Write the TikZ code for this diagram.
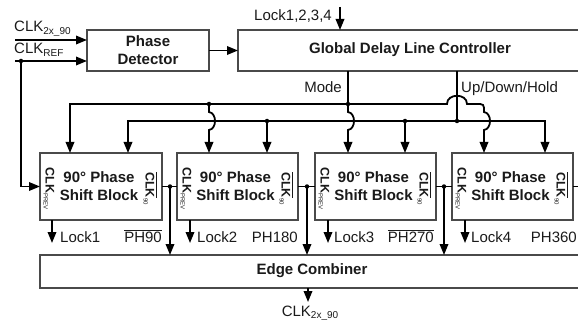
\documentclass[tikz,border=0pt]{standalone}
\usepackage{fontspec}
\setmainfont{Liberation Sans}
\usetikzlibrary{arrows.meta}
\definecolor{txt}{HTML}{1A1A1A}
\definecolor{boxgray}{HTML}{4A4A4A}
\newcommand{\lsub}[1]{\raisebox{-0.35ex}{\fontsize{10}{10}\selectfont #1}}
\newcommand{\tsub}[1]{\raisebox{-0.3ex}{\fontsize{6}{6}\selectfont\mdseries #1}}
\begin{document}
\begin{tikzpicture}[x=1pt,y=-1pt,
  box/.style={draw=boxgray, line width=1.4pt, fill=white, inner sep=0pt, outer sep=0pt, anchor=north west},
  wire/.style={line width=1.8pt, draw=black},
  arr/.style={wire, -{Triangle[length=11pt,width=8.5pt]}},
  biarr/.style={wire, {Triangle[length=11pt,width=8.5pt]}-{Triangle[length=11pt,width=8.5pt]}},
  dot/.style={circle, fill=black, inner sep=0pt, minimum size=4.5pt},
  lbl/.style={font=\fontsize{15}{17}\selectfont, text=txt, inner sep=0pt},
  blk/.style={font=\fontsize{15}{18}\selectfont\bfseries, text=txt, align=center, inner sep=0pt},
  vlbl/.style={font=\fontsize{12.5}{12.5}\selectfont\bfseries, text=txt, inner sep=0pt, rotate=-90}
]
\useasboundingbox (0,0) rectangle (578,334);
\clip (0,0) rectangle (578,334);

% ---------- boxes ----------
\node[box, minimum width=122pt, minimum height=41pt] (pd) at (87,30) {};
\node[blk] (pdt) at (pd.center) {Phase\\Detector};
\node[box, minimum width=360pt, minimum height=41pt] (gdlc) at (238,30) {};
\node[blk] (gdlct) at (410,50) {Global Delay Line Controller};

\node[box, minimum width=122pt, minimum height=67pt] (b1) at (40,153) {};
\node[box, minimum width=121pt, minimum height=67pt] (b2) at (177,153) {};
\node[box, minimum width=121pt, minimum height=67pt] (b3) at (315,153) {};
\node[box, minimum width=121pt, minimum height=67pt] (b4) at (452,153) {};
\foreach \b in {b1,b2,b3,b4}{
  \node[blk] at ([xshift=-2pt]\b.center) {90° Phase\\Shift Block};
  \node[vlbl] at ([xshift=9pt,yshift=-2pt]\b.west) {CLK\tsub{PREV}};
  \node[vlbl] at ([xshift=-12pt,yshift=-2pt]\b.east) {$\overline{\mbox{CLK}}$\tsub{90}};
}

\node[box, minimum width=560pt, minimum height=33pt] (ec) at (40,255) {};
\node[blk] (ect) at (312,271) {Edge Combiner};

% ---------- clock inputs ----------
\coordinate (inA) at (15,40);
\coordinate (inB) at (15,61);
\draw[arr] (inA) -- (inA -| pd.west);
\draw[arr] (inB) -- (inB -| pd.west);
\node[dot] (jref) at (21,61) {};
\draw[arr] (jref.center) |- (b1.west);
\node[lbl, anchor=base west] at (14,32) {CLK\lsub{2x\_90}};
\node[lbl, anchor=base west] at (14,54) {CLK\lsub{REF}};

% ---------- detector to controller ----------
\draw[arr] (pd.east) -- (pd.east -| gdlc.west);
\coordinate (lk) at (340,7);
\draw[arr] (lk) -- (lk |- gdlc.north);
\node[lbl, anchor=base east] at (332,21) {Lock1,2,3,4};

% ---------- Mode bus ----------
\node[dot] (jm3) at (348,104) {};
\node[dot] (jm2) at (209,104) {};
\draw[wire] (gdlc.south -| jm3) -- (jm3.center);
\node[lbl, anchor=base east] at (342,93) {Mode};
\draw[biarr] (b1.north -| 70,0) -- (70,104) -- (447,104)
  .. controls (447,93) and (467,93) .. (467,104) -- (476,104)
  .. controls (484,104) .. (484,112)
  .. controls (492,113) and (492,129) .. (484,130) -- (b4.north -| 484,0);
\draw[arr] (jm2.center) -- (209,112) .. controls (217,113) and (217,129) .. (209,130) -- (b2.north -| jm2);
\draw[arr] (jm3.center) -- (348,112) .. controls (356,113) and (356,129) .. (348,130) -- (b3.north -| jm3);

% ---------- Up/Down/Hold bus ----------
\node[dot] (ju) at (457,121) {};
\node[dot] (ju2) at (267,121) {};
\node[dot] (ju3) at (405,121) {};
\draw[wire] (gdlc.south -| ju) -- (ju.center);
\node[lbl, anchor=base west] at (461,93) {Up/Down/Hold};
\draw[biarr] (b1.north -| 128,0) -- (128,121) -- (545,121) -- (b4.north -| 545,0);
\draw[arr] (ju2.center) -- (b2.north -| ju2);
\draw[arr] (ju3.center) -- (b3.north -| ju3);

% ---------- phase outputs ----------
\draw[wire] (b1.east) -- (b2.west);
\draw[wire] (b2.east) -- (b3.west);
\draw[wire] (b3.east) -- (b4.west);
\draw[wire] (b4.east) -- ++(10,0);
\node[dot] (jo1) at (170,186.5) {};
\node[dot] (jo2) at (307,186.5) {};
\node[dot] (jo3) at (444,186.5) {};
\foreach \j in {jo1,jo2,jo3}{
  \draw[arr] (\j.center) -- (\j |- ec.north);
}
\node[lbl, anchor=base east] at (162,242) {$\overline{\mbox{PH90}}$};
\node[lbl, anchor=base east] at (298,242) {PH180};
\node[lbl, anchor=base east] at (434,242) {$\overline{\mbox{PH270}}$};
\node[lbl, anchor=base east] at (577,242) {PH360};

% ---------- lock outputs ----------
\draw[arr] (b1.south -| 52,0) -- (52,243);
\draw[arr] (b2.south -| 190,0) -- (190,243);
\draw[arr] (b3.south -| 328,0) -- (328,243);
\draw[arr] (b4.south -| 465,0) -- (465,243);
\node[lbl, anchor=base west] at (60,242) {Lock1};
\node[lbl, anchor=base west] at (197,242) {Lock2};
\node[lbl, anchor=base west] at (334,242) {Lock3};
\node[lbl, anchor=base west] at (471,242) {Lock4};

% ---------- combiner output ----------
\coordinate (out) at (308,302);
\draw[arr] (ec.south -| out) -- (out);
\node[lbl, anchor=base] at (310,316) {CLK\lsub{2x\_90}};
\end{tikzpicture}
\end{document}
